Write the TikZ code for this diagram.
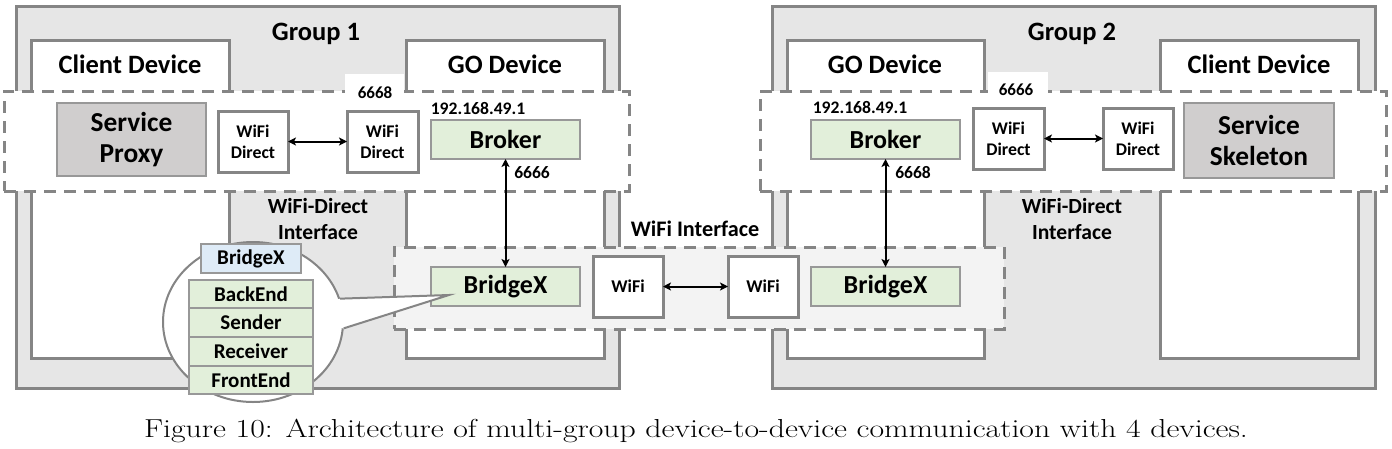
\documentclass[tikz,border=0pt]{standalone}
\usepackage{fontspec}
\usepackage{graphicx}
\newfontfamily\carl{Carlito}
\usetikzlibrary{shapes.geometric,arrows.meta}
\definecolor{grpgray}{HTML}{E6E6E6}
\definecolor{bord}{HTML}{858585}
\definecolor{bord2}{HTML}{989898}
\definecolor{svcgray}{HTML}{D0CECE}
\definecolor{grn}{HTML}{E2EFDA}
\definecolor{blu}{HTML}{DEEBF7}
\definecolor{wifibg}{HTML}{F3F3F3}
\newcommand{\fsz}[2]{\fontsize{#1pt}{#2pt}\selectfont}
\tikzset{
  box/.style={draw=bord, line width=3pt, inner sep=0pt, outer sep=0pt, anchor=north west},
  grp/.style={box, fill=grpgray},
  dev/.style={box, fill=white},
  region/.style={box, fill=white, dash pattern=on 12pt off 8pt},
  wregion/.style={region, fill=wifibg},
  lblbg/.style={fill=white, inner sep=0pt, anchor=north west},
  svc/.style={box, line width=2.5pt, draw=bord2, fill=svcgray, font=\carl\bfseries\fsz{27.4}{31.5}, align=center},
  grnbox/.style={box, line width=2.5pt, draw=bord2, fill=grn, font=\carl\bfseries\fsz{26}{30}},
  wdbox/.style={box, fill=white, font=\carl\bfseries\fsz{17.8}{20.7}, align=center},
  wbox/.style={box, fill=white, font=\carl\bfseries\fsz{18}{22}},
  tier/.style={box, line width=2.5pt, draw=bord2, fill=grn, font=\carl\bfseries\fsz{21}{25}},
  lbl/.style={anchor=base, inner sep=0pt, font=\carl\bfseries\fsz{#1}{#1}},
  arr/.style={{Stealth[length=8pt,width=8pt,inset=2pt]}-{Stealth[length=8pt,width=8pt,inset=2pt]}, line width=2pt},
}
\begin{document}
\begin{tikzpicture}[x=1pt,y=-1pt]
\useasboundingbox (0,0) rectangle (1392,448);
% groups
\node[grp, minimum width=603pt, minimum height=382pt] (g1) at (16,6) {};
\node[grp, minimum width=603pt, minimum height=382pt] (g2) at (772,6) {};
% devices
\node[dev, minimum width=198pt, minimum height=318pt] (cd1) at (31,40) {};
\node[dev, minimum width=198pt, minimum height=318pt] (go1) at (406,40) {};
\node[dev, minimum width=197pt, minimum height=318pt] (go2) at (787,40) {};
\node[dev, minimum width=198pt, minimum height=318pt] (cd2) at (1160,40) {};
% regions
\node[region, minimum width=625pt, minimum height=100pt] (wdr1) at (4,91) {};
\node[region, minimum width=626pt, minimum height=100pt] (wdr2) at (760,91) {};
\node[wregion, minimum width=610pt, minimum height=82pt] (wfr) at (394,247) {};
% label backgrounds
\node[lblbg, minimum width=59pt, minimum height=27pt] (lb1) at (345,74) {};
\node[lblbg, minimum width=60pt, minimum height=29pt] (lb2) at (988,72) {};
% free labels
\node[lbl=26.5] (t1) at (316,40) {Group 1};
\node[lbl=26.5] (t2) at (1072,40) {Group 2};
\node[lbl=26.5] (t3) at (130,73) {Client Device};
\node[lbl=26.5] (t4) at (505,73) {GO Device};
\node[lbl=26.5] (t5) at (885,73) {GO Device};
\node[lbl=26.5] (t6) at (1259,73) {Client Device};
\node[lbl=17] (p1) at (375,98) {6668};
\node[lbl=17] (p2) at (1016,95) {6666};
\node[lbl=17.6] (ip1) at (478,114) {192.168.49.1};
\node[lbl=17.6] (ip2) at (860,113) {192.168.49.1};
\node[lbl=17.5] (p3) at (532,178) {6666};
\node[lbl=17.5] (p4) at (913,178) {6668};
\node[lbl=21.6] (w1a) at (318,213) {WiFi-Direct};
\node[lbl=21.6] (w1b) at (318,239) {Interface};
\node[lbl=21.6] (w2a) at (1072,213) {WiFi-Direct};
\node[lbl=21.6] (w2b) at (1072,239) {Interface};
\node[lbl=22.2] (wi) at (695,236) {WiFi Interface};
% boxes group 1
\node[svc, minimum width=149pt, minimum height=73pt] (sp) at (57,103) {Service\\Proxy};
\node[wdbox, minimum width=70pt, minimum height=61pt] (wd1) at (218,111) {WiFi\\Direct};
\node[wdbox, minimum width=71pt, minimum height=61pt] (wd2) at (347,111) {WiFi\\Direct};
\node[grnbox, minimum width=149pt, minimum height=39pt] (br1) at (431,120) {Broker};
% boxes group 2
\node[grnbox, minimum width=149pt, minimum height=39pt] (br2) at (811,120) {Broker};
\node[wdbox, minimum width=71pt, minimum height=61pt] (wd3) at (973,108) {WiFi\\Direct};
\node[wdbox, minimum width=70pt, minimum height=61pt] (wd4) at (1103,108) {WiFi\\Direct};
\node[svc, minimum width=150pt, minimum height=75pt] (sk) at (1184,103) {Service\\Skeleton};
% wifi interface
\node[grnbox, minimum width=149pt, minimum height=39pt] (bx1) at (431,267) {BridgeX};
\node[grnbox, minimum width=149pt, minimum height=39pt] (bx2) at (811,267) {BridgeX};
\node[wbox, minimum width=70pt, minimum height=61pt] (wf1) at (593,256) {WiFi};
\node[wbox, minimum width=70pt, minimum height=61pt] (wf2) at (728,256) {WiFi};
% callout
\node[ellipse, draw=bord, line width=2pt, fill=white, minimum width=180pt, minimum height=160pt, inner sep=0pt] (ell) at (253,322) {};
\coordinate (tip) at (449,295);
\fill[white] (ell.15) -- (tip) -- (ell.-4) -- (ell.center) -- cycle;
\draw[bord, line width=2pt] (ell.15) -- (tip) -- (ell.-4);
\node[box, line width=2.5pt, draw=bord2, fill=blu, font=\carl\bfseries\fsz{21}{25}, minimum width=100pt, minimum height=29pt] (bs) at (201,244) {BridgeX};
\node[tier, minimum width=124pt, minimum height=28pt] (be) at (189,280) {BackEnd};
\node[tier, minimum width=124pt, minimum height=29pt] (se) at (189,308) {Sender};
\node[tier, minimum width=124pt, minimum height=29pt] (re) at (189,337) {Receiver};
\node[tier, minimum width=124pt, minimum height=28pt] (fe) at (189,366) {FrontEnd};
% arrows
\draw[arr] (wd1.east) -- (wd2.west);
\draw[arr] (wd3.east) -- (wd4.west);
\draw[arr] (wf1.east) -- (wf2.west);
\draw[arr] (br1.south) -- (bx1.north);
\draw[arr] (br2.south) -- (bx2.north);
% caption
\node[anchor=base, inner sep=0pt, font=\fsz{26}{30}] (cap) at (696,437) {\scalebox{1.222}[1]{Figure 10: Architecture of multi-group device-to-device communication with 4 devices.}};
\end{tikzpicture}
\end{document}
